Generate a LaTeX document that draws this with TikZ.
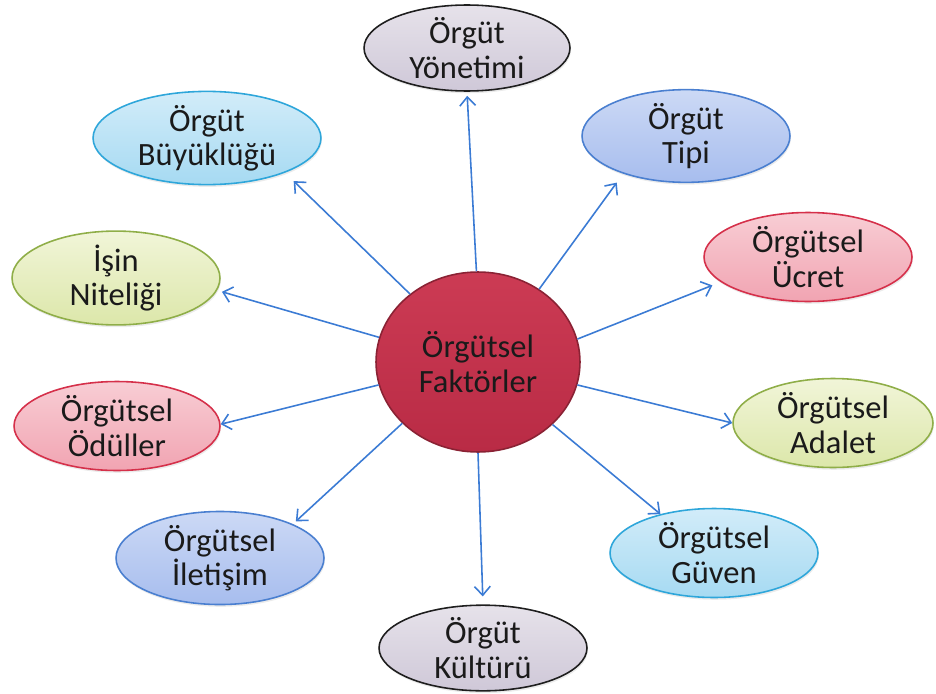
\documentclass[tikz,border=0pt]{standalone}
\usepackage{fontspec}
\setmainfont{Carlito}
\usetikzlibrary{shapes.geometric,arrows.meta,shadows}

\definecolor{inkc}{HTML}{1A1A1A}
\definecolor{arrowc}{HTML}{3B7BD4}
% fills (top / bottom) and borders of the outer ellipses
\definecolor{grayT}{HTML}{E6E2EA}\definecolor{grayB}{HTML}{CFC8D8}\definecolor{grayD}{HTML}{1E1E1E}
\definecolor{blueT}{HTML}{CCD9F5}\definecolor{blueB}{HTML}{A7BDEE}\definecolor{blueD}{HTML}{4A7FD0}
\definecolor{cyanT}{HTML}{D2ECF9}\definecolor{cyanB}{HTML}{A6DAF2}\definecolor{cyanD}{HTML}{2EA6DA}
\definecolor{pinkT}{HTML}{F8CDD4}\definecolor{pinkB}{HTML}{F1A4B2}\definecolor{pinkD}{HTML}{D5304A}
\definecolor{lemT}{HTML}{F1F5D8}\definecolor{lemB}{HTML}{DCE7AA}\definecolor{lemD}{HTML}{8FAE48}
% central circle
\definecolor{hubT}{HTML}{CC3B54}\definecolor{hubB}{HTML}{B92B45}\definecolor{hubD}{HTML}{8A2234}

\begin{document}
\begin{tikzpicture}[x=0.02cm,y=-0.02cm,
  bubble/.style={ellipse, line width=0.9pt, inner sep=0pt,
    minimum width=4.16cm, minimum height=1.78cm, align=center,
    font=\fontsize{18.5}{19.5}\selectfont, text=inkc,
    drop shadow={opacity=0.16, shadow xshift=0.5pt, shadow yshift=-1.3pt}},
  grayb/.style={bubble, draw=grayD, top color=grayT, bottom color=grayB},
  blueb/.style={bubble, draw=blueD, top color=blueT, bottom color=blueB},
  cyanb/.style={bubble, draw=cyanD, top color=cyanT, bottom color=cyanB},
  pinkb/.style={bubble, draw=pinkD, top color=pinkT, bottom color=pinkB},
  lemb/.style={bubble, draw=lemD, top color=lemT, bottom color=lemB},
  hub/.style={ellipse, draw=hubD, line width=0.9pt, inner sep=0pt,
    top color=hubT, bottom color=hubB,
    minimum width=4.08cm, minimum height=3.6cm, align=center,
    font=\fontsize{18.5}{19.5}\selectfont, text=inkc},
  link/.style={draw=arrowc, line width=0.9pt,
    -{Straight Barb[length=5pt,width=9pt,line width=0.9pt]}},
]
\useasboundingbox (0,0) rectangle (936,693);

% outer factors
\node[grayb, minimum width=4.12cm, minimum height=1.72cm] (yon) at (467,48)  {Örgüt\\Yönetimi};
\node[blueb] (tip) at (686,136) {Örgüt\\Tipi};
\node[pinkb] (ucr) at (808,257) {Örgütsel\\Ücret};
\node[lemb, minimum width=4.0cm] (ada) at (833,423) {Örgütsel\\Adalet};
\node[cyanb] (guv) at (714,553) {Örgütsel\\Güven};
\node[grayb, minimum height=1.68cm] (kul) at (483,648) {Örgüt\\Kültürü};
\node[blueb] (ile) at (220,558) {Örgütsel\\İletişim};
\node[pinkb, minimum width=4.12cm] (odu) at (117,426) {Örgütsel\\Ödüller};
\node[lemb] (isn) at (116,278) {İşin\\Niteliği};
\node[cyanb, minimum width=4.56cm] (buy) at (207,138) {Örgüt\\Büyüklüğü};

% centre
\node[hub] (c) at (478,362) {Örgütsel\\Faktörler};

% radial arrows
\draw[link, shorten >=0.08cm] (c.91)    -- (yon.south);
\draw[link, shorten >=0.22cm] (c.50)    -- (tip.211.7);
\draw[link, shorten >=0.18cm] (c.13.5)  -- (ucr.196.4);
\draw[link]                   (c.-13.9) -- (ada.180);
\draw[link]                   (c.-40.9) -- (guv.144.8);
\draw[link, shorten >=0.16cm] (c.-90)   -- (kul.north);
\draw[link, shorten >=0.08cm] (c.219)   -- (ile.25.3);
\draw[link]                   (c.193.6) -- (odu.1.7);
\draw[link, shorten >=0.10cm] (c.166.4) -- (isn.-7.7);
\draw[link, shorten >=0.24cm] (c.135)   -- (buy.-24.6);
\end{tikzpicture}
\end{document}
